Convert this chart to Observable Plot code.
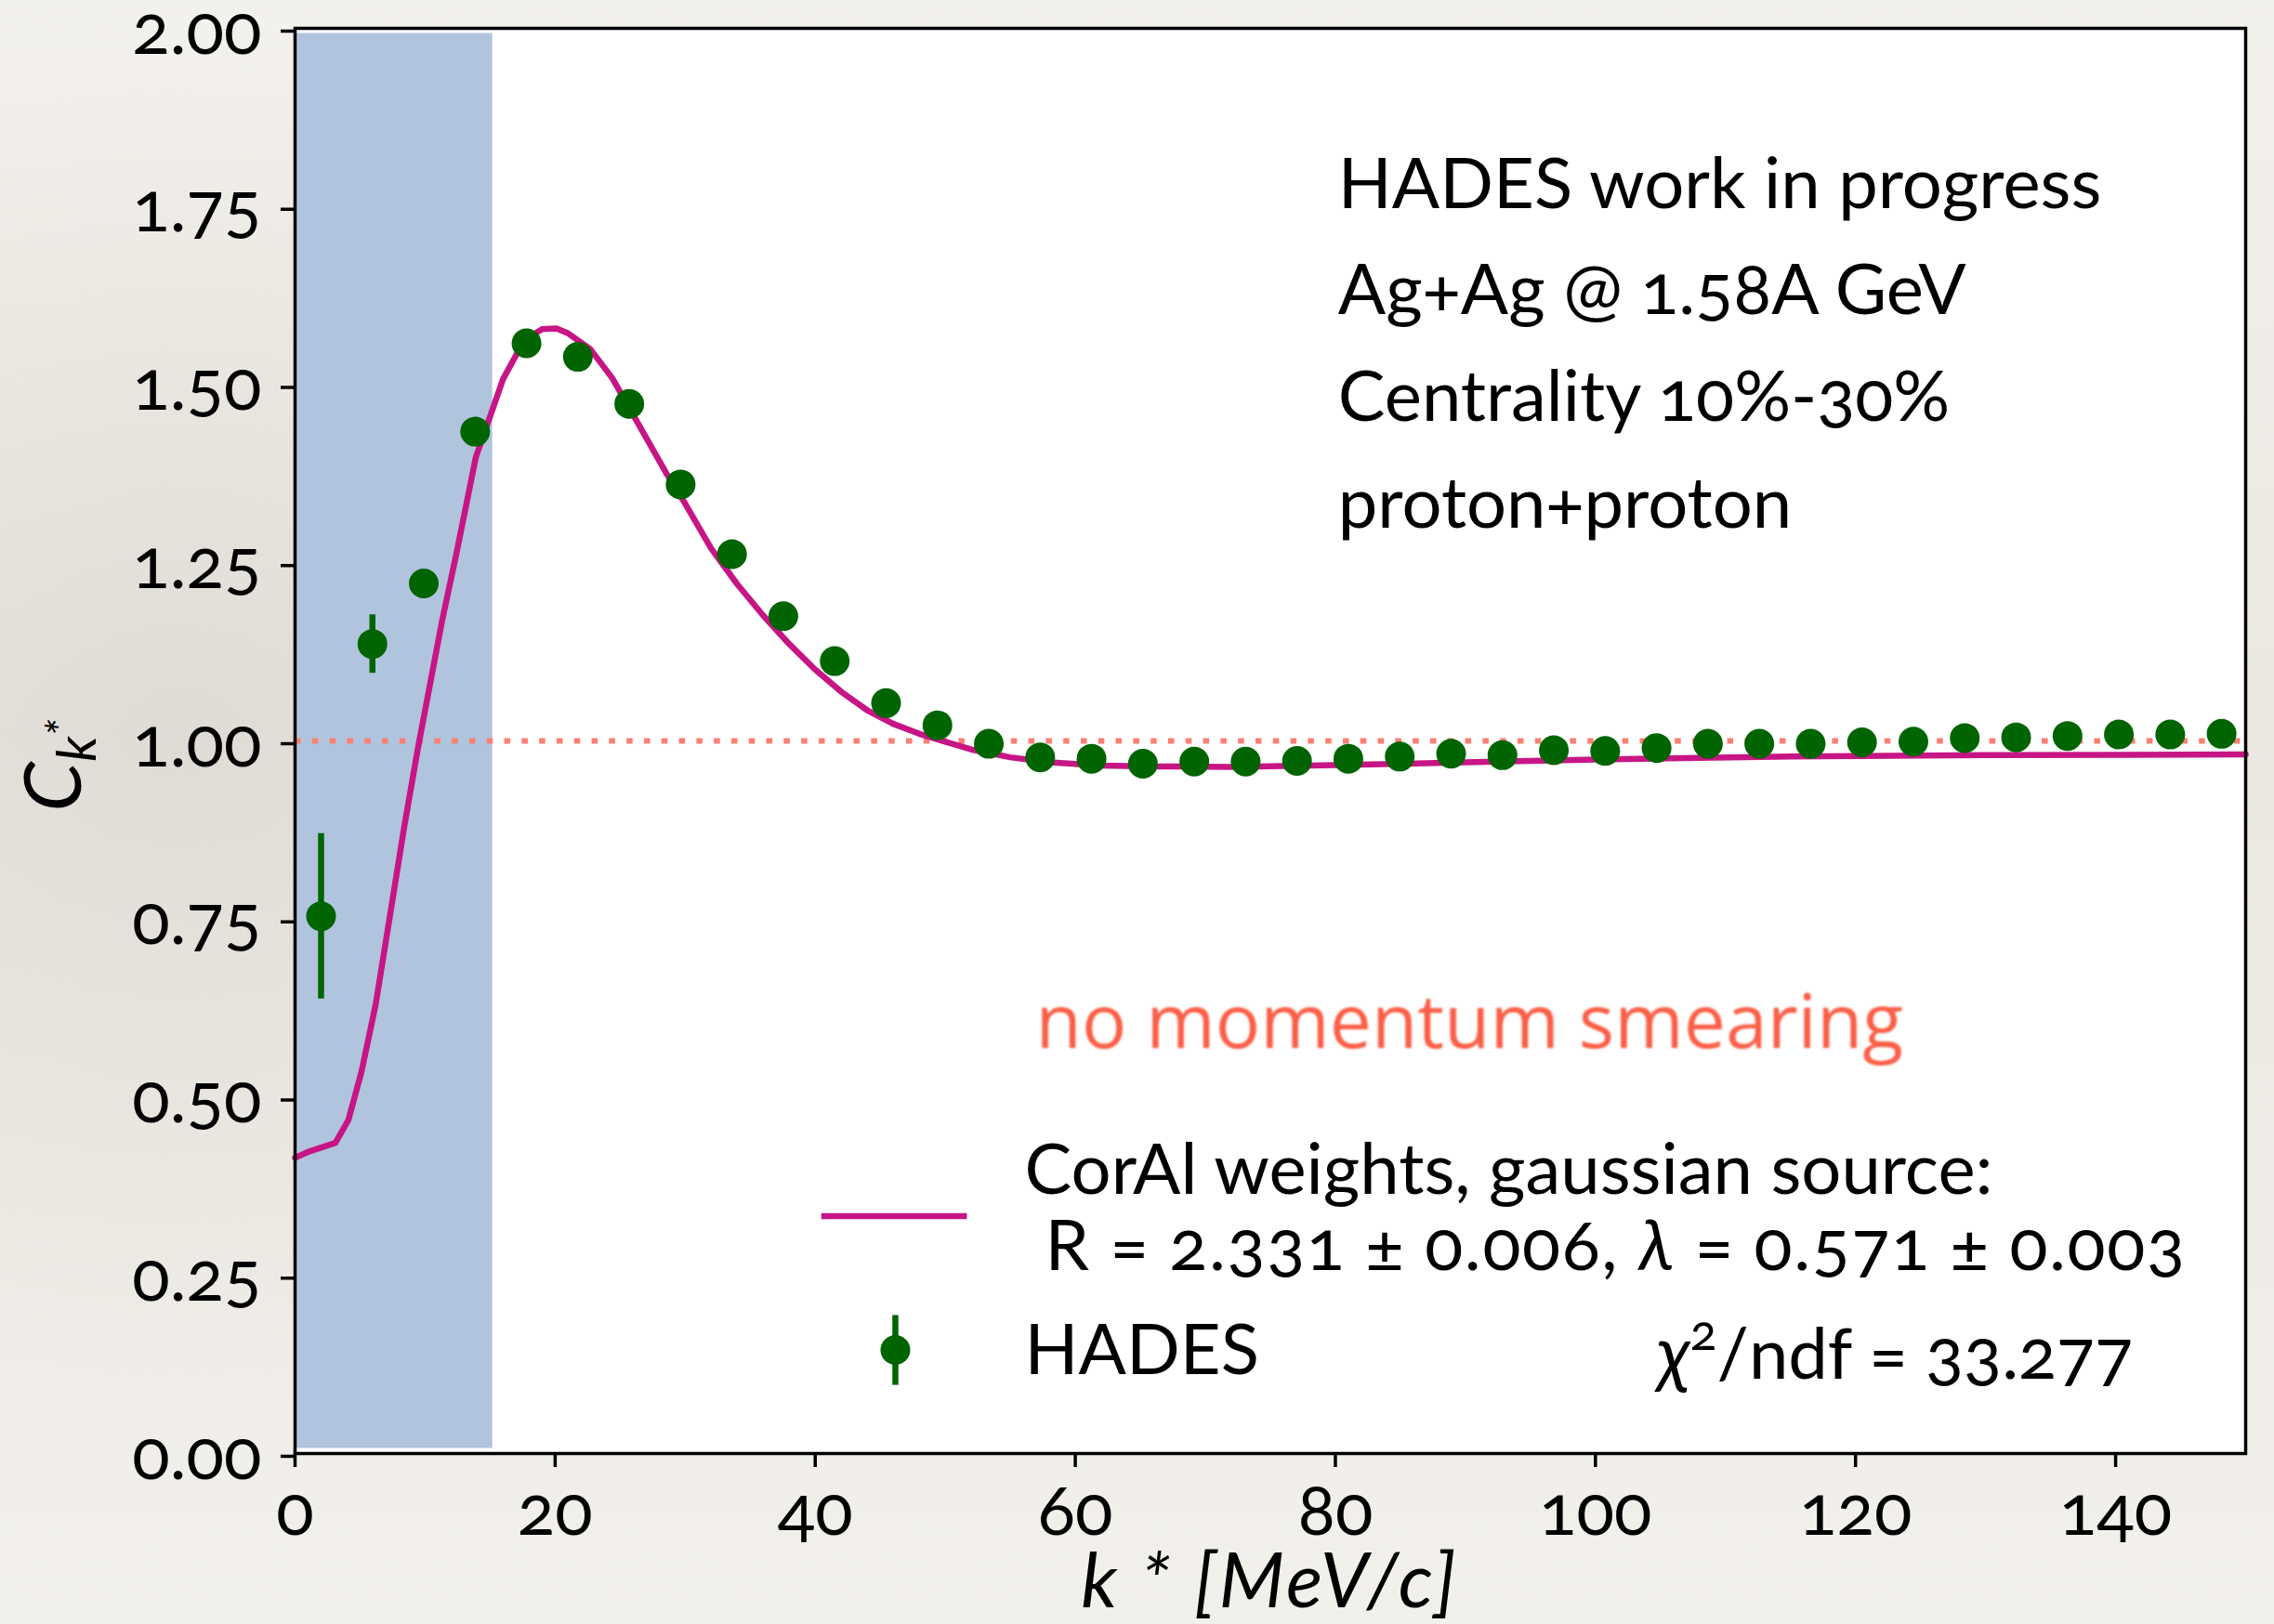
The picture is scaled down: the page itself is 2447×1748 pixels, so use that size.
<!DOCTYPE html>
<html>
<head>
<meta charset="utf-8">
<script src="https://cdn.jsdelivr.net/npm/d3@7"></script>
<script src="https://cdn.jsdelivr.net/npm/@observablehq/plot@0.6"></script>
<style>
  html, body { margin: 0; padding: 0; width: 2447px; height: 1748px; overflow: hidden; }
  body {
    background-color: #eeebe5;
    background-image:
      radial-gradient(ellipse 45% 60% at 8% 45%, rgba(120,110,95,0.10), rgba(120,110,95,0) 70%),
      linear-gradient(180deg, #f3f1ec 0%, #ebe8e2 45%, #f2f0eb 100%);
  }
  #chart svg { display: block; }
  #chart svg text { font-family: Lato, "Open Sans", sans-serif; font-variant-numeric: oldstyle-nums; }
</style>
</head>
<body>
<div id="chart"></div>
<script>
// Proton-proton correlation function C(k*) measured by HADES, with CorAl fit.
const kStar = [2.0, 5.95, 9.9, 13.85, 17.8, 21.75, 25.7, 29.65, 33.6, 37.55,
  41.5, 45.45, 49.4, 53.35, 57.3, 61.25, 65.2, 69.15, 73.1, 77.05,
  81.0, 84.95, 88.9, 92.85, 96.8, 100.75, 104.7, 108.65, 112.6, 116.55,
  120.5, 124.45, 128.4, 132.35, 136.3, 140.25, 144.2, 148.15];
const ckValues = [0.754, 1.136, 1.221, 1.434, 1.558, 1.539, 1.473, 1.360, 1.262, 1.175,
  1.112, 1.053, 1.022, 0.996, 0.977, 0.975, 0.968, 0.971, 0.971, 0.972,
  0.975, 0.978, 0.982, 0.980, 0.987, 0.986, 0.990, 0.996, 0.996, 0.996,
  0.998, 0.999, 1.004, 1.005, 1.007, 1.009, 1.009, 1.010];
const ckErrors = [0.116, 0.041, 0.018, 0.013, 0.011, 0.010, 0.009, 0.008, 0.008, 0.007,
  0.007, 0.006, 0.006, 0.006, 0.005, 0.005, 0.005, 0.005, 0.005, 0.005,
  0.005, 0.005, 0.004, 0.004, 0.004, 0.004, 0.004, 0.004, 0.004, 0.004,
  0.004, 0.004, 0.004, 0.004, 0.004, 0.004, 0.004, 0.004];

// CorAl model curve (gaussian source)
const fitK = [0, 1.1, 3.1, 4.1, 5.1, 6.2, 7.3, 8.4, 9.5, 10.2,
  11.3, 12.4, 13.9, 15.2, 16.0, 17.2, 18.3, 19.0, 20.1, 21.0,
  22.7, 24.4, 26.3, 28.6, 30, 32, 34, 36, 38, 40,
  42, 44, 46, 48, 50, 52, 55, 58, 62, 66,
  72, 80, 90, 100, 115, 130, 150];
const fitC = [0.415, 0.424, 0.436, 0.468, 0.535, 0.630, 0.755, 0.880, 0.995, 1.062,
  1.168, 1.262, 1.398, 1.466, 1.508, 1.548, 1.570, 1.578, 1.579, 1.572,
  1.550, 1.509, 1.448, 1.374, 1.333, 1.270, 1.220, 1.176, 1.136, 1.100,
  1.069, 1.043, 1.024, 1.010, 0.999, 0.988, 0.977, 0.970, 0.9655, 0.9643,
  0.9635, 0.966, 0.970, 0.974, 0.978, 0.980, 0.981];

const xTicks = [0, 20, 40, 60, 80, 100, 120, 140];
const yTicks = [0, 0.25, 0.5, 0.75, 1, 1.25, 1.5, 1.75, 2];
const excludedRange = [[0, 15.2]];
const infoLines = ["HADES work in progress", "Ag+Ag @ 1.58A GeV", "Centrality 10%-30%", "proton+proton"];
const fitLabel = "CorAl weights, gaussian source:";
const fitParams = {R: "2.331", dR: "0.006", lambda: "0.571", dLambda: "0.003"};
const chi2ndf = "33.277";
const dataLabel = "HADES";
const smearingNote = "no momentum smearing";

// colours and type sizes
const GREEN = "#006400", MAGENTA = "#c71585", SALMON = "#fa8072", BAND = "#b0c4de";
const FS = 76, TICK_FS = 75;

const points = kStar.map((k, i) => ({k, c: ckValues[i], e: ckErrors[i]}));
const fit = fitK.map((k, i) => ({k, c: fitC[i]}));

// anchor positions for the text blocks, in data units
const info = {x: 80.2, y: 1.748, step: 0.1495};
const legend = {lineX: [40.5, 51.7], lineY: 0.3325, dotX: 46.2, dotY: 0.1447, dotErr: 0.049,
  textX: 56.1, row1: 0.365, row2X: 57.7, row2: 0.257, row3: 0.111, chiX: 104.8, chiY: 0.104};
const note = {x: 57.0, y: 0.568};

const chart = Plot.plot({
  width: 2447,
  height: 1748,
  marginLeft: 317,
  marginRight: 31,
  marginTop: 30,
  marginBottom: 184,
  style: {background: "transparent", overflow: "visible"},
  x: {domain: [0, 150]},
  y: {domain: [0, 2]},
  marks: [
    Plot.frame({fill: "white"}),
    Plot.rect(excludedRange, {x1: d => d[0], x2: d => d[1], y1: 0, y2: 2, fill: BAND, insetTop: 5.5, insetBottom: 5.5}),
    Plot.ruleY([1], {stroke: SALMON, strokeWidth: 6, strokeDasharray: "6.5 12.3"}),
    Plot.line(fit, {x: "k", y: "c", stroke: MAGENTA, strokeWidth: 6.5, strokeLinejoin: "round"}),
    Plot.ruleX(points, {x: "k", y1: d => d.c - d.e, y2: d => d.c + d.e, stroke: GREEN, strokeWidth: 6.5}),
    Plot.dot(points, {x: "k", y: "c", r: 16, fill: GREEN}),
    Plot.frame({stroke: "black", strokeWidth: 3.5}),
    Plot.axisX(xTicks, {tickSize: 15, tickPadding: 19, fontSize: TICK_FS, strokeWidth: 3.5, label: null, fill: "black"}),
    Plot.axisY(yTicks, {tickSize: 15, tickPadding: 21, fontSize: TICK_FS, strokeWidth: 3.5, label: null,
      tickFormat: d3.format(".2f"), dy: 3, fill: "black"}),
    Plot.text(infoLines, {x: info.x, y: (d, i) => info.y - i * info.step, text: d => d,
      textAnchor: "start", lineAnchor: "bottom", fontSize: FS, fill: "black"}),
    Plot.text([fitLabel], {x: legend.textX, y: legend.row1, text: d => d,
      textAnchor: "start", lineAnchor: "bottom", fontSize: FS, fill: "black"}),
    Plot.text([dataLabel], {x: legend.textX, y: legend.row3, text: d => d,
      textAnchor: "start", lineAnchor: "bottom", fontSize: FS, fill: "black"})
  ]
});

document.getElementById("chart").appendChild(chart);

const svg = d3.select(chart);
const sx = chart.scale("x"), sy = chart.scale("y");
const X = v => sx.apply(v), Y = v => sy.apply(v);

const defs = svg.append("defs");
defs.append("filter").attr("id", "soft").attr("x", "-5%").attr("y", "-20%").attr("width", "110%").attr("height", "140%")
  .append("feGaussianBlur").attr("stdDeviation", 1.1);

// legend swatches
svg.append("line")
  .attr("x1", X(legend.lineX[0])).attr("x2", X(legend.lineX[1]))
  .attr("y1", Y(legend.lineY)).attr("y2", Y(legend.lineY))
  .attr("stroke", MAGENTA).attr("stroke-width", 6.5);
svg.append("line")
  .attr("x1", X(legend.dotX)).attr("x2", X(legend.dotX))
  .attr("y1", Y(legend.dotY - legend.dotErr)).attr("y2", Y(legend.dotY + legend.dotErr))
  .attr("stroke", GREEN).attr("stroke-width", 6.5);
svg.append("circle").attr("cx", X(legend.dotX)).attr("cy", Y(legend.dotY)).attr("r", 16).attr("fill", GREEN);

// fit parameters
const params = svg.append("text").attr("x", X(legend.row2X)).attr("y", Y(legend.row2))
  .attr("font-size", FS).attr("text-anchor", "start").attr("fill", "black")
  .attr("letter-spacing", 1.6);
params.append("tspan").text(`R = ${fitParams.R} ± ${fitParams.dR}, `);
params.append("tspan").attr("font-style", "italic").text("λ");
params.append("tspan").text(` = ${fitParams.lambda} ± ${fitParams.dLambda}`);

// chi2 / ndf
const chi = svg.append("text").attr("x", X(legend.chiX)).attr("y", Y(legend.chiY))
  .attr("font-size", FS).attr("text-anchor", "start").attr("fill", "black");
chi.append("tspan").attr("font-style", "italic").attr("font-size", FS * 1.05).text("χ");
chi.append("tspan").attr("font-size", FS * 0.7).attr("dy", -31).text("2");
chi.append("tspan").attr("dy", 31).text(`/ndf = ${chi2ndf}`);

// note
svg.append("text").attr("x", X(note.x)).attr("y", Y(note.y))
  .attr("font-size", 80.5).attr("text-anchor", "start").attr("fill", "#fb5e46")
  .attr("filter", "url(#soft)")
  .style("font-family", "'Open Sans', sans-serif")
  .text(smearingNote);

// axis titles
svg.append("text")
  .attr("x", (X(0) + X(150)) / 2).attr("y", Y(0) + 166)
  .attr("font-size", 82).attr("font-style", "italic").attr("text-anchor", "middle").attr("fill", "black")
  .attr("letter-spacing", 3)
  .text("k * [MeV/c]");

const yl = svg.append("text")
  .attr("transform", `translate(${X(0) - 230},${Y(1) + 27}) rotate(-90)`)
  .attr("text-anchor", "middle").attr("font-style", "italic").attr("fill", "black");
yl.append("tspan").attr("font-size", 86).text("C");
yl.append("tspan").attr("font-size", 58).attr("dy", 16).text("k");
yl.append("tspan").attr("font-size", 46).attr("dy", -20).text("*");
</script>
</body>
</html>
